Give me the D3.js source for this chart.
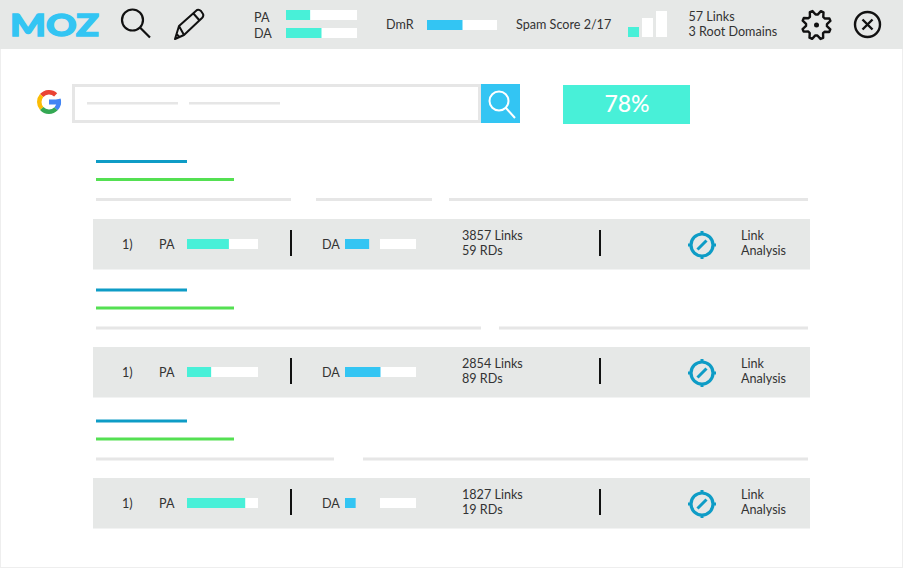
<!DOCTYPE html>
<html>
<head>
<meta charset="utf-8">
<script src="https://cdn.jsdelivr.net/npm/d3@7"></script>
<style>
  html, body { margin: 0; padding: 0; background: #fff; }
  svg { display: block; }
  text { font-family: Lato, "Open Sans", sans-serif; font-size: 12.6px; fill: #333; }
</style>
</head>
<body>
<div id="graph"></div>
<script>
// header values
const headerLabels = ["PA", "DA"]
const headerValues = [34, 50]
const dmrValue = 50
const spamLevels = [1, 2, 3]
const spamHeights = [10, 19, 26]
const spamActive = 1
const headerLinks = ["57 Links", "3 Root Domains"]
const spamLabel = "Spam Score 2/17"
const percentLabel = "78%"

// result rows
const rowRanks = ["1)", "1)", "1)"]
const rowPA = [59, 34, 82]
const rowDA = [34, 50, 15]
const rowLinks = ["3857 Links", "2854 Links", "1827 Links"]
const rowRDs = ["59 RDs", "89 RDs", "19 RDs"]

const gray = "#e6e8e7", lineGray = "#e6e6e6", aqua = "#48f0d8", sky = "#33c5f3", teal = "#0e9cc6", green = "#54e052"

const width = 903, height = 568

const svg = d3.select("#graph").append("svg")
  .attr("width", width)
  .attr("height", height)

const barScale = d3.scaleLinear().domain([0, 100]).range([0, 71])

function rect(g, x, y, w, h, fill) {
  return g.append("rect").attr("x", x).attr("y", y).attr("width", w).attr("height", h).attr("fill", fill)
}

function label(g, x, y, str) {
  return g.append("text").attr("x", x).attr("y", y).text(str)
}

// faint page border
svg.append("rect").attr("x", 0.5).attr("y", 0.5).attr("width", width - 1).attr("height", height - 1)
  .attr("fill", "none").attr("stroke", "#eeeeee")

// header strip
rect(svg, 0, 0, width, 49, gray)

svg.append("text")
  .attr("x", 10).attr("y", 35.5)
  .attr("textLength", 89).attr("lengthAdjust", "spacingAndGlyphs")
  .style("font-size", "30px").style("font-weight", 900).style("fill", sky)
  .style("stroke", sky).style("stroke-width", 1.3)
  .text("MOZ")

// search icon
function lens(g, cx, cy, r, x2, y2, color, sw) {
  g.append("circle").attr("cx", cx).attr("cy", cy).attr("r", r)
    .attr("fill", "none").attr("stroke", color).attr("stroke-width", sw)
  g.append("line")
    .attr("x1", cx + r * 0.71).attr("y1", cy + r * 0.71).attr("x2", x2).attr("y2", y2)
    .attr("stroke", color).attr("stroke-width", sw)
}
lens(svg, 132.5, 20, 10.5, 150, 37.5, "#111", 2.2)

// pencil icon
svg.append("path")
  .attr("d", "M175,39 L179,26 L197,10 Q199,9 201,11 L203,14 Q204,16 202,18 L184,35 Z M179,26 L184,35 M193,13 L200,21 M176.5,34 L179.5,37")
  .attr("fill", "none").attr("stroke", "#111").attr("stroke-width", 2).attr("stroke-linejoin", "round")

// PA / DA header bars
headerLabels.forEach((d, i) => {
  const y = [10, 28][i]
  label(svg, 254, [22, 38][i], d)
  rect(svg, 286, y, barScale(100), 10, "#fff")
  rect(svg, 286, y, barScale(headerValues[i]), 10, aqua)
})

label(svg, 386, 29, "DmR")
rect(svg, 427, 20, barScale(100) - 1, 10, "#fff")
rect(svg, 427, 20, barScale(dmrValue), 10, sky)

label(svg, 516, 29, spamLabel)

// spam score steps
const spamX = d3.scaleBand().domain(spamLevels).range([628, 667]).paddingInner(0.214).paddingOuter(0)
const spamY = d3.scaleLinear().domain([0, 26]).range([37, 11])
svg.selectAll(".spam")
  .data(spamLevels)
  .enter()
  .append("rect")
  .attr("class", "spam")
  .attr("x", d => spamX(d))
  .attr("y", (d, i) => spamY(spamHeights[i]))
  .attr("width", spamX.bandwidth())
  .attr("height", (d, i) => spamY(0) - spamY(spamHeights[i]))
  .attr("fill", d => d <= spamActive ? aqua : "#fff")

label(svg, 688.5, 21, headerLinks[0])
label(svg, 688.5, 36, headerLinks[1])

// gear icon
const teeth = 8
const gearPts = d3.range(teeth * 4).map(i => {
  const step = i % 4
  return [(i + 0.5) * Math.PI * 2 / (teeth * 4), step < 2 ? 14.5 : 10.5]
})
svg.append("path")
  .attr("transform", "translate(816.5,25) rotate(12)")
  .attr("d", d3.lineRadial().curve(d3.curveLinearClosed)(gearPts))
  .attr("fill", "none").attr("stroke", "#111").attr("stroke-width", 2.4).attr("stroke-linejoin", "round")
svg.append("circle").attr("cx", 816.5).attr("cy", 25).attr("r", 2.5).attr("fill", "#111")

// close icon
svg.append("circle").attr("cx", 867.5).attr("cy", 24.5).attr("r", 12.5)
  .attr("fill", "none").attr("stroke", "#111").attr("stroke-width", 2.4)
svg.append("path").attr("d", "M862.5,19.5 L872.5,29.5 M872.5,19.5 L862.5,29.5")
  .attr("stroke", "#111").attr("stroke-width", 2.4)

// google G
const gArc = d3.arc().innerRadius(7.5).outerRadius(12)
const gG = svg.append("g").attr("transform", "translate(49,102)")
gG.append("path").attr("d", gArc({ startAngle: -0.85, endAngle: 0.75 })).attr("fill", "#ea4335")
gG.append("path").attr("d", gArc({ startAngle: -2.3, endAngle: -0.85 })).attr("fill", "#fbbc05")
gG.append("path").attr("d", gArc({ startAngle: -3.95, endAngle: -2.3 })).attr("fill", "#34a853")
gG.append("path").attr("d", gArc({ startAngle: -5.0, endAngle: -3.95 })).attr("fill", "#4285f4")
rect(gG, 0, -2.5, 12, 5, "#4285f4")

// search box
svg.append("rect").attr("x", 73.5).attr("y", 85.5).attr("width", 406).attr("height", 36)
  .attr("fill", "#fff").attr("stroke", lineGray).attr("stroke-width", 3)
rect(svg, 87, 102, 91, 2.5, lineGray)
rect(svg, 189, 102, 91, 2.5, lineGray)
rect(svg, 481, 84, 39, 39, sky)
lens(svg, 499, 101, 9.5, 515, 118, "#fff", 2)

rect(svg, 563, 85, 127, 39, aqua)
svg.append("text").attr("x", 627).attr("y", 112).attr("text-anchor", "middle")
  .style("font-size", "23px").style("font-weight", 500).style("fill", "#fff")
  .text(percentLabel)

// skeleton title lines above each row
const skeletonY = [160, 288.5, 419.5]
const skeletonGaps = [
  [[96, 291], [316, 432], [449, 808]],
  [[96, 481], [499, 808]],
  [[96, 334], [363, 808]]
]
skeletonY.forEach((y, i) => {
  rect(svg, 96, y, 91, 3, teal)
  rect(svg, 96, y + 18, 138, 3, green)
  skeletonGaps[i].forEach(s => rect(svg, s[0], y + 38, s[1] - s[0], 3, lineGray))
})

// result rows
const rows = svg.selectAll(".row")
  .data(rowRanks)
  .enter()
  .append("g")
  .attr("class", "row")
  .attr("transform", (d, i) => "translate(0," + [219, 347, 478][i] + ")")

rows.each(function (d, i) {
  const g = d3.select(this)
  rect(g, 93, 0, 717, 50.5, gray)
  label(g, 122, 30, d)
  label(g, 159, 30, "PA")
  rect(g, 187, 20, barScale(100), 10, "#fff")
  rect(g, 187, 20, barScale(rowPA[i]), 10, aqua)
  rect(g, 290, 11, 2, 26, "#111")
  label(g, 322, 30, "DA")
  rect(g, 380, 20, 36, 10, "#fff")
  rect(g, 345, 20, barScale(rowDA[i]), 10, sky)
  label(g, 462, 20.5, rowLinks[i])
  label(g, 462, 35.5, rowRDs[i])
  rect(g, 599, 11, 2, 26, "#111")

  // target icon
  const t = g.append("g").attr("transform", "translate(702,26)")
  t.append("circle").attr("r", 11).attr("fill", "none").attr("stroke", teal).attr("stroke-width", 3.2)
  t.append("path").attr("d", "M0,-14 V-10 M0,14 V10 M-14,0 H-10 M14,0 H10").attr("stroke", teal).attr("stroke-width", 3)
  t.append("path").attr("d", "M-4.5,4.5 L4.5,-4.5").attr("stroke", teal).attr("stroke-width", 3)

  label(g, 741, 20.5, "Link")
  label(g, 741, 35.5, "Analysis")
})
</script>
</body>
</html>
